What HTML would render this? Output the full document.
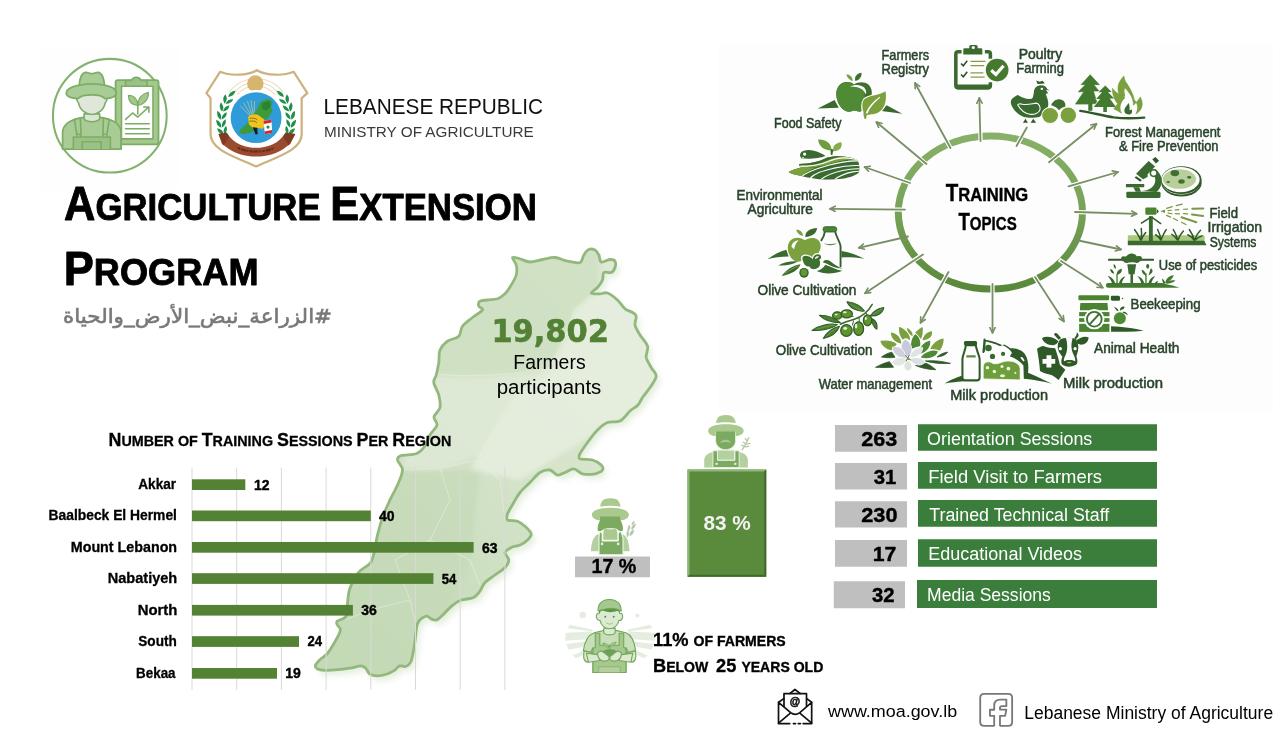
<!DOCTYPE html>
<html lang="en"><head><meta charset="utf-8"><title>Agriculture Extension Program</title>
<style>
html,body{margin:0;padding:0;background:#fff;}
body{width:1288px;height:756px;overflow:hidden;font-family:'Liberation Sans', 'DejaVu Sans', sans-serif;}
svg{display:block}
</style></head><body>
<svg width="1288" height="756" viewBox="0 0 1288 756">
<!-- 05_map -->
<defs>
<linearGradient id="mapg" x1="0.9" y1="0" x2="0.2" y2="1">
<stop offset="0" stop-color="#dfead6"/><stop offset="0.5" stop-color="#d4e3c9"/><stop offset="1" stop-color="#c5d9b7"/>
</linearGradient>
<filter id="mapbl" x="-20%" y="-20%" width="140%" height="140%"><feGaussianBlur stdDeviation="2.5"/></filter>
<filter id="mapsh" x="-10%" y="-10%" width="125%" height="125%"><feGaussianBlur stdDeviation="3"/></filter>
<path id="mapp" d="M512.5 257.5C513.1 256.5 517.1 258.0 520.0 258.8C522.9 259.5 526.2 261.9 530.0 262.0C533.8 262.1 538.3 260.2 542.5 259.5C546.7 258.8 550.8 257.2 555.0 257.5C559.2 257.8 563.3 260.4 567.5 261.2C571.7 262.1 577.3 263.5 580.0 262.5C582.7 261.5 582.3 257.2 583.8 255.0C585.2 252.8 586.9 250.3 588.8 249.5C590.6 248.7 593.3 249.1 595.0 250.0C596.7 250.9 597.7 253.0 598.8 255.0C599.8 257.0 599.4 261.2 601.2 262.0C603.1 262.8 607.7 259.6 610.0 259.5C612.3 259.4 614.2 259.9 615.0 261.2C615.8 262.6 615.6 265.6 615.0 267.5C614.4 269.4 613.1 271.7 611.2 272.5C609.4 273.3 605.2 271.2 603.8 272.5C602.3 273.8 603.5 277.5 602.5 280.0C601.5 282.5 599.4 285.3 597.5 287.5C595.6 289.7 590.8 292.0 591.2 293.0C591.7 294.0 597.3 293.8 600.0 293.8C602.7 293.8 604.6 292.0 607.5 293.0C610.4 294.0 614.6 297.4 617.5 300.0C620.4 302.6 622.5 306.7 625.0 308.8C627.5 310.8 630.6 311.2 632.5 312.5C634.4 313.8 635.8 314.2 636.2 316.2C636.7 318.3 634.4 321.9 635.0 325.0C635.6 328.1 637.9 331.5 640.0 335.0C642.1 338.5 646.5 342.5 647.5 346.2C648.5 350.0 645.6 354.0 646.2 357.5C646.9 361.0 649.6 364.4 651.2 367.5C652.9 370.6 656.5 372.9 656.2 376.2C656.0 379.6 652.3 384.0 650.0 387.5C647.7 391.0 644.5 394.6 642.5 397.5C640.5 400.4 640.1 402.8 638.0 405.0C635.9 407.2 633.0 408.3 630.0 411.0C627.0 413.7 623.8 419.1 620.0 421.0C616.2 422.9 611.2 421.0 607.5 422.5C603.8 424.0 600.8 426.7 597.5 430.0C594.2 433.3 590.4 438.5 587.5 442.5C584.6 446.5 581.2 451.0 580.0 453.8C578.8 456.5 577.9 457.7 580.0 458.8C582.1 459.8 589.0 459.0 592.5 460.0C596.0 461.0 599.6 463.3 601.2 465.0C602.9 466.7 603.5 468.5 602.5 470.0C601.5 471.5 598.3 473.1 595.0 473.8C591.7 474.4 586.0 474.6 582.5 473.8C579.0 472.9 576.7 469.0 573.8 468.8C570.8 468.5 567.7 471.5 565.0 472.5C562.3 473.5 560.0 475.4 557.5 475.0C555.0 474.6 552.9 470.4 550.0 470.0C547.1 469.6 543.3 470.4 540.0 472.5C536.7 474.6 533.3 479.2 530.0 482.5C526.7 485.8 522.7 489.2 520.0 492.5C517.3 495.8 515.8 499.0 513.8 502.5C511.7 506.0 508.5 510.8 507.5 513.8C506.5 516.7 505.8 518.8 507.5 520.0C509.2 521.2 514.6 520.2 517.5 521.2C520.4 522.3 522.7 524.2 525.0 526.2C527.3 528.3 530.8 531.5 531.2 533.8C531.7 536.0 529.4 538.1 527.5 540.0C525.6 541.9 522.7 543.8 520.0 545.0C517.3 546.2 513.8 546.2 511.2 547.5C508.8 548.8 505.4 550.4 505.0 552.5C504.6 554.6 508.8 557.5 508.8 560.0C508.8 562.5 507.3 565.0 505.0 567.5C502.7 570.0 498.3 572.5 495.0 575.0C491.7 577.5 487.6 579.6 485.0 582.5C482.4 585.4 481.2 589.7 479.2 592.2C477.2 594.8 476.1 596.4 473.0 597.8C469.9 599.1 464.1 598.9 460.6 600.3C457.1 601.6 455.0 603.3 451.9 605.9C448.8 608.5 444.4 613.5 441.9 615.8C439.4 618.1 438.5 619.3 436.8 619.9C435.1 620.5 433.5 619.9 431.8 619.3C430.1 618.7 428.6 616.3 426.9 616.2C425.1 616.1 422.9 617.5 421.3 618.7C419.7 619.9 418.3 621.7 417.5 623.6C416.7 625.5 416.7 627.0 416.3 629.9C415.9 632.8 415.5 637.3 415.0 641.0C414.5 644.7 413.9 648.7 413.2 652.2C412.5 655.7 411.9 659.8 410.7 662.2C409.4 664.6 407.6 665.9 405.7 666.5C403.8 667.1 401.4 665.3 399.5 665.9C397.6 666.5 396.6 668.9 394.5 670.3C392.4 671.6 390.0 673.1 387.1 674.0C384.2 674.9 380.0 675.9 377.1 675.9C374.2 675.9 371.6 675.2 369.7 674.0C367.8 672.8 367.4 669.8 365.9 668.4C364.4 667.0 363.6 665.9 360.9 665.9C358.2 665.9 353.7 667.6 349.8 668.2C345.9 668.8 341.5 669.4 337.3 669.7C333.1 670.1 328.2 670.4 324.9 670.3C321.6 670.2 319.0 669.8 317.4 669.0C315.8 668.2 315.1 666.8 315.5 665.3C315.9 663.8 317.9 661.7 319.9 659.7C321.9 657.7 324.7 656.8 327.4 653.5C330.1 650.2 333.9 643.7 336.1 639.8C338.3 635.9 340.2 632.4 340.4 629.9C340.6 627.4 337.8 626.4 337.3 624.9C336.8 623.4 335.9 622.5 337.3 621.1C338.8 619.7 344.3 619.2 346.0 616.2C347.7 613.2 346.9 608.0 347.5 603.4C348.1 598.8 348.0 593.6 349.9 588.4C351.8 583.2 355.3 576.4 358.6 572.3C361.9 568.2 367.3 566.5 369.8 563.6C372.3 560.7 372.2 559.7 373.5 554.9C374.8 550.1 376.0 541.2 377.5 535.0C379.0 528.8 380.6 522.9 382.5 517.5C384.4 512.1 386.2 507.9 388.8 502.5C391.2 497.1 395.2 490.4 397.5 485.0C399.8 479.6 402.5 474.2 402.5 470.0C402.5 465.8 397.7 462.4 397.5 460.0C397.3 457.6 398.1 456.5 401.2 455.5C404.4 454.5 412.5 455.1 416.2 453.8C420.0 452.4 421.5 450.6 423.8 447.5C426.0 444.4 427.8 438.8 430.0 435.0C432.2 431.2 436.3 428.0 437.0 425.0C437.7 422.0 433.5 419.9 434.0 417.0C434.5 414.1 439.2 411.2 440.0 407.5C440.8 403.8 439.8 399.2 438.8 395.0C437.7 390.8 434.2 385.8 433.8 382.5C433.3 379.2 435.4 378.3 436.2 375.0C437.1 371.7 438.1 366.7 438.8 362.5C439.4 358.3 438.5 353.5 440.0 350.0C441.5 346.5 444.4 343.5 447.5 341.2C450.6 339.0 456.2 338.8 458.8 336.2C461.2 333.8 460.2 329.4 462.5 326.2C464.8 323.1 469.2 320.2 472.5 317.5C475.8 314.8 481.5 311.9 482.5 310.0C483.5 308.1 479.2 307.7 478.8 306.2C478.3 304.8 478.5 302.3 480.0 301.2C481.5 300.2 484.6 300.4 487.5 300.0C490.4 299.6 494.6 299.8 497.5 298.8C500.4 297.7 502.7 296.0 505.0 293.8C507.3 291.5 509.4 288.1 511.2 285.0C513.1 281.9 515.4 278.3 516.2 275.0C517.1 271.7 516.9 267.9 516.2 265.0C515.6 262.1 511.9 258.5 512.5 257.5Z"/>
<clipPath id="mapclip"><use href="#mapp"/></clipPath>
</defs>
<g id="map">
<use href="#mapp" transform="translate(4 5)" fill="#cfe0c3" opacity="0.55" filter="url(#mapsh)"/>
<use href="#mapp" fill="url(#mapg)"/>
<g clip-path="url(#mapclip)">
<g filter="url(#mapbl)">
<path d="M598 290 L575 310 L562 345 L548 372 L520 392 L500 420 L470 470 L520 480 L600 430 L660 400 L665 300 Z" fill="#e6efdf" opacity="0.85"/>
<path d="M430 376 C470 380 520 376 548 370 L520 392 L500 420 L480 455 L440 470 L400 470 L420 420 Z" fill="#dfead7" opacity="0.8"/>
<path d="M430 250 L600 250 L598 290 L575 310 L562 345 L548 368 C520 374 470 378 430 374 Z" fill="#cddfc1" opacity="0.8"/>
<path d="M300 700 L330 600 L400 470 L480 470 L470 560 L440 640 L420 700 Z" fill="#c3d8b5" opacity="0.6"/>
</g>
<g fill="none" stroke="#eaf2e4" stroke-width="1.2" opacity="0.45">
<path d="M436 374C470 378 520 374 548 369L562 345L575 310L598 290"/>
<path d="M548 369L520 392L500 420L478 460L440 468L400 470"/>
<path d="M478 460L500 480L505 520M440 468L450 500L430 540L395 560M430 540L470 560L480 585M395 560L410 600L416 625M410 600L370 610L345 620"/>
</g>
</g>
<use href="#mapp" fill="none" stroke="#93b87e" stroke-width="2.8" stroke-linejoin="round"/>
</g>
<!-- 10_base -->
<rect x="718" y="44" width="555" height="368" fill="#fdfdfd"/>
<g id="chart">
<g stroke="#d9d9d9" stroke-width="1">
<path d="M192 467.5V690M236.7 467.5V690M281.4 467.5V690M326.1 467.5V690M370.8 467.5V690M415.5 467.5V690M460.2 467.5V690M504.9 467.5V690" fill="none"/>
</g>
</g>
<!-- 20_ring -->
<defs>
<linearGradient id="ringg" x1="0" y1="0" x2="0" y2="1"><stop offset="0" stop-color="#88b068"/><stop offset="0.5" stop-color="#76a256"/><stop offset="1" stop-color="#5a883b"/></linearGradient>
<marker id="ah" viewBox="0 0 10 10" refX="9" refY="5" markerWidth="7" markerHeight="7" markerUnits="userSpaceOnUse" orient="auto"><path d="M1.5 1.2L9 5L1.5 8.8" fill="none" stroke="#788f66" stroke-width="2.3" stroke-linecap="round" stroke-linejoin="round"/></marker>
</defs>
<g id="ring">
<ellipse cx="990.4" cy="212.5" rx="92.1" ry="76.6" fill="none" stroke="url(#ringg)" stroke-width="7"/>
<g stroke="#fff" stroke-width="4.2" fill="none">
<path d="M980.6 143L980.3 128M951.5 150L944 136M928 165.5L917 156M911.5 183.5L898 178.5M907 209.6L893 209.5M925 253L912 261.5M949.5 270L942 283.5M992.5 282V296M1034 275.5L1041.5 287M1059 259.5L1071 267.5M1073 212L1088 212.3M1066.5 187L1080 183M1047 164L1058.5 154.5M1015.5 148L1021.5 137"/>
</g>
<g stroke="#788f66" stroke-width="1.8" fill="none" stroke-linecap="round">
<path d="M980.5 141L979.3 98" marker-end="url(#ah)"/>
<path d="M950.5 148L915 83" marker-end="url(#ah)"/>
<path d="M926.5 164L876.3 122" marker-end="url(#ah)"/>
<path d="M910 183L864.5 167" marker-end="url(#ah)"/>
<path d="M905 209.6L830 208.8" marker-end="url(#ah)"/>
<path d="M908 236.5L858.8 247.8" marker-end="url(#ah)"/>
<path d="M923 254.5L865 293.3" marker-end="url(#ah)"/>
<path d="M948.5 272L920.5 322.8" marker-end="url(#ah)"/>
<path d="M992.5 284V332.8" marker-end="url(#ah)"/>
<path d="M1035 277L1064 321.5" marker-end="url(#ah)"/>
<path d="M1061 261L1102.8 287.8" marker-end="url(#ah)"/>
<path d="M1076 240L1121 249.5" marker-end="url(#ah)"/>
<path d="M1075 212L1136.8 213.8" marker-end="url(#ah)"/>
<path d="M1068.5 186.3L1118 172" marker-end="url(#ah)"/>
<path d="M1049 162.3L1096.5 123.8" marker-end="url(#ah)"/>
<path d="M1016.5 146L1026.8 127.5"/>
</g>
</g>
<!-- 30_bars -->
<g id="bars" fill="#548235">
<rect x="192" y="479.3" width="53.3" height="10.7"/>
<rect x="192" y="510.5" width="178.8" height="10.7"/>
<rect x="192" y="542" width="281.6" height="10.7"/>
<rect x="192" y="573.2" width="241.4" height="10.7"/>
<rect x="192" y="604.9" width="160.9" height="10.7"/>
<rect x="192" y="636.2" width="107" height="10.7"/>
<rect x="192" y="668" width="85" height="10.7"/>
</g>
<g id="stats">
<g fill="#bfbfbf">
<rect x="835" y="425" width="72" height="26.75"/>
<rect x="835" y="463" width="72" height="26.5"/>
<rect x="835" y="501.25" width="72" height="26.25"/>
<rect x="835" y="540" width="72" height="26.75"/>
<rect x="833.75" y="581.25" width="71.25" height="27"/>
<rect x="575" y="556.5" width="75" height="20.75"/>
</g>
<g fill="#3b7d3b">
<rect x="918" y="424.25" width="239" height="26.5"/>
<rect x="918" y="462" width="239" height="26.75"/>
<rect x="918" y="500" width="239" height="26.75"/>
<rect x="918" y="539.25" width="239" height="27.5"/>
<rect x="917" y="580" width="240" height="28"/>
</g>
<rect x="687.5" y="469.5" width="78.75" height="107.25" fill="#5a8b3c"/>
<path d="M687.5 469.5h78.75l-2 2h-74.75v103.25l-2 2z" fill="#8fb677"/>
<path d="M766.25 469.5v107.25h-78.75l2-2h74.75v-103.25z" fill="#41692b"/>
</g>
<!-- 40_logo_farmer -->
<g id="logo-farmer" transform="translate(40 50) scale(0.18519)" stroke-linejoin="round" stroke-linecap="round">
<rect x="0" y="-20" width="756" height="776" fill="#fefefe" stroke="none"/>
<circle cx="377" cy="355" r="307" fill="#fff" stroke="#82b26b" stroke-width="11"/>
<!-- clipboard -->
<rect x="408" y="163" width="232" height="346" rx="12" fill="#a5c88f" stroke="#7cad64" stroke-width="9.5"/>
<rect x="440" y="196" width="170" height="284" fill="#fff" stroke="#7cad64" stroke-width="8.5"/>
<path d="M462 196V165h32a28 28 0 0 1 52 0h32v31z" fill="#9cc186" stroke="#7cad64" stroke-width="8.5"/>
<path d="M528 300C495 298 478 275 477 245C510 245 528 268 528 300ZM528 300C528 265 548 238 585 228C588 262 568 292 528 300Z" fill="#a5c88f" stroke="#7cad64" stroke-width="6"/>
<path d="M528 300V345" fill="none" stroke="#7cad64" stroke-width="8.5"/>
<path d="M462 375L500 340L528 362L585 310M560 308H588V336" fill="none" stroke="#7cad64" stroke-width="8.5"/>
<path d="M462 398H590M462 425H590M462 452H590" fill="none" stroke="#7cad64" stroke-width="8.5"/>
<!-- farmer body -->
<path d="M122 535V450C122 400 160 375 240 362H320C400 375 438 400 438 450V535Z" fill="#a9cb95" stroke="#7cad64" stroke-width="9.5"/>
<path d="M238 345V372C250 392 310 392 322 372V345Z" fill="#dde6d6" stroke="#7cad64" stroke-width="8.5"/>
<path d="M180 535V470H380V535M228 535V495H330V535" fill="#9cc186" stroke="#7cad64" stroke-width="8.5"/>
<path d="M186 375L200 465M218 372L222 465M342 372L340 465M374 375L360 465" fill="none" stroke="#7cad64" stroke-width="8.5"/>
<circle cx="208" cy="462" r="9" fill="#a9cb95" stroke="#7cad64" stroke-width="6"/>
<circle cx="352" cy="462" r="9" fill="#a9cb95" stroke="#7cad64" stroke-width="6"/>
<!-- face -->
<path d="M205 230C195 250 195 275 208 285C215 325 250 348 280 348C310 348 345 325 352 285C365 275 365 250 355 230Z" fill="#dfe7d9" stroke="#7cad64" stroke-width="8.5"/>
<!-- hat -->
<path d="M142 232C142 210 180 196 212 190C214 160 222 130 240 122C255 116 265 128 280 128C295 128 305 116 320 122C338 130 346 160 348 190C380 196 412 210 412 232C412 262 350 262 350 262C330 235 230 235 205 262C205 262 142 262 142 232Z" fill="#a9cb95" stroke="#7cad64" stroke-width="9.5"/>
<path d="M212 190C250 182 310 182 348 190" fill="none" stroke="#7cad64" stroke-width="8.5"/>
</g>
<!-- 41_logo_moa -->
<g id="logo-moa" transform="translate(195 55) scale(0.15873)" stroke-linejoin="round">
<path d="M390 96C330 132 220 132 158 106L72 240L98 272V500C100 600 250 640 385 702C520 640 670 600 672 500V272L708 240L622 106C560 132 450 132 390 96Z" fill="#ffffff" stroke="#cdb27e" stroke-width="14"/>
<g fill="none" stroke="#ecdcc0" stroke-width="7">
<path d="M215 235C260 175 320 150 385 150C450 150 510 175 555 235"/>
<path d="M240 245C280 195 330 172 385 172C440 172 490 195 530 245"/>
<path d="M265 250C300 212 340 194 385 194C430 194 470 212 505 250"/>
</g>
<circle cx="380" cy="180" r="52" fill="#d8b56e"/>
<circle cx="385" cy="395" r="174" fill="#fff"/>
<circle cx="385" cy="395" r="160" fill="#2f9bd9"/>
<!-- wheat -->
<g stroke="#a9c4a0" stroke-width="6" fill="none" opacity="0.9">
<path d="M345 380L285 320M350 375L305 300M358 372L330 290M366 372L352 285M372 374L375 290"/>
</g>
<!-- map -->
<path d="M410 300L440 282L470 278L490 296L478 325L488 350L470 385L445 410L420 440L390 470L350 490L310 500L275 492L290 465L320 440L345 410L365 375L390 345L400 320Z" fill="#3d9a3a"/>
<path d="M425 300L470 290L478 325L450 350L420 340Z" fill="#2b8431"/>
<!-- hand -->
<path d="M335 390C345 372 380 368 400 380L435 405L450 440L425 465L395 460C370 465 345 450 338 430Z" fill="#f1c320"/>
<path d="M345 400C360 395 380 398 392 408M342 418C358 412 378 416 390 426" stroke="#8a6a10" stroke-width="6" fill="none"/>
<path d="M365 455L380 500L395 500L392 458Z" fill="#1c1c1c"/>
<!-- flag -->
<path d="M432 415L482 408L486 490L440 500Z" fill="#fff"/>
<path d="M432 415L482 408L483 426L433 434Z" fill="#d8242b"/>
<path d="M437 482L485 472L486 490L440 500Z" fill="#d8242b"/>
<circle cx="460" cy="454" r="10" fill="#2b8a3e"/>
<!-- laurels -->
<g fill="#1f8f4c">
<path transform="translate(232 245) rotate(-40)" d="M-30 0Q0 -22 30 0Q0 22 -30 0Z"/>
<path transform="translate(189 277) rotate(-86)" d="M-30 0Q0 -22 30 0Q0 22 -30 0Z"/>
<path transform="translate(217 293) rotate(-30)" d="M-28 0Q0 -20 28 0Q0 20 -28 0Z"/>
<path transform="translate(167 327) rotate(-98)" d="M-30 0Q0 -22 30 0Q0 22 -30 0Z"/>
<path transform="translate(197 337) rotate(-42)" d="M-28 0Q0 -20 28 0Q0 20 -28 0Z"/>
<path transform="translate(152 380) rotate(-110)" d="M-30 0Q0 -22 30 0Q0 22 -30 0Z"/>
<path transform="translate(184 384) rotate(-54)" d="M-28 0Q0 -20 28 0Q0 20 -28 0Z"/>
<path transform="translate(150 433) rotate(-123)" d="M-30 0Q0 -22 30 0Q0 22 -30 0Z"/>
<path transform="translate(182 431) rotate(-67)" d="M-28 0Q0 -20 28 0Q0 20 -28 0Z"/>
<path transform="translate(161 483) rotate(-136)" d="M-30 0Q0 -22 30 0Q0 22 -30 0Z"/>
<path transform="translate(191 473) rotate(-80)" d="M-28 0Q0 -20 28 0Q0 20 -28 0Z"/>
<path transform="translate(538 245) rotate(220)" d="M-30 0Q0 -22 30 0Q0 22 -30 0Z"/>
<path transform="translate(553 293) rotate(210)" d="M-28 0Q0 -20 28 0Q0 20 -28 0Z"/>
<path transform="translate(581 277) rotate(266)" d="M-30 0Q0 -22 30 0Q0 22 -30 0Z"/>
<path transform="translate(573 337) rotate(222)" d="M-28 0Q0 -20 28 0Q0 20 -28 0Z"/>
<path transform="translate(603 327) rotate(278)" d="M-30 0Q0 -22 30 0Q0 22 -30 0Z"/>
<path transform="translate(586 384) rotate(234)" d="M-28 0Q0 -20 28 0Q0 20 -28 0Z"/>
<path transform="translate(618 380) rotate(290)" d="M-30 0Q0 -22 30 0Q0 22 -30 0Z"/>
<path transform="translate(588 431) rotate(247)" d="M-28 0Q0 -20 28 0Q0 20 -28 0Z"/>
<path transform="translate(620 433) rotate(303)" d="M-30 0Q0 -22 30 0Q0 22 -30 0Z"/>
<path transform="translate(579 473) rotate(260)" d="M-28 0Q0 -20 28 0Q0 20 -28 0Z"/>
<path transform="translate(609 483) rotate(316)" d="M-30 0Q0 -22 30 0Q0 22 -30 0Z"/>
</g>
<!-- ribbon -->
<path d="M148 498L200 490C240 560 320 585 385 585C450 585 530 560 570 490L632 498L600 560L575 578C530 620 450 640 385 640C320 640 240 620 195 578L170 560Z" fill="#9a4b2f"/>
<path d="M148 498L200 490L215 515L180 570Z" fill="#7f3a22"/><path d="M632 498L570 490L555 515L590 570Z" fill="#7f3a22"/>
<path d="M270 585C300 600 340 608 385 608C430 608 470 600 500 585" stroke="#6e2c18" stroke-width="14" fill="none" stroke-dasharray="18 6 30 5 12 7"/>
</g>
<!-- 50_icons_a -->
<g id="ic-clipboard" transform="translate(940 36) scale(0.08467)">
<path d="M255 185H215Q187 185 187 213V585Q187 612 215 612H568Q595 612 595 585V545M530 185H568Q595 185 595 213V270" fill="none" stroke="#3c6a2e" stroke-width="42" stroke-linecap="butt"/>
<path d="M187 572H595V595Q595 632 560 632H222Q187 632 187 595Z" fill="#3c6a2e"/>
<path d="M275 160Q275 145 290 145H345V125Q345 105 365 105H425Q445 105 445 125V145H485Q500 145 500 160V218H275Z" fill="#3c6a2e"/>
<circle cx="393" cy="136" r="19" fill="#fdfdfd"/>
<path d="M248 325L275 352L322 292M248 455L275 482L322 422" fill="none" stroke="#2c4a25" stroke-width="17"/>
<path d="M360 300H537M360 351H522M360 436H512M360 486H527" stroke="#8c9a45" stroke-width="15" fill="none"/>
<circle cx="675" cy="402" r="146" fill="#fdfdfd"/>
<circle cx="675" cy="402" r="134" fill="#457a2e"/>
<path d="M605 405L660 455L750 352" fill="none" stroke="#fdfdfd" stroke-width="38"/>
</g>
<g id="ic-apple" transform="translate(810 62) scale(0.08467)">
<path d="M90 550L290 450L340 540Z" fill="#3a6a2f"/>
<path d="M845 580L905 510L1090 612Z" fill="#3a6a2f"/>
<path d="M520 265C470 225 380 225 335 290C290 355 310 470 370 540C410 585 460 600 500 580C520 570 540 572 560 582C600 600 640 570 680 510C740 420 750 320 690 265C640 225 560 235 520 265Z" fill="#3f7030"/>
<path d="M520 265C470 225 380 225 335 290C290 355 310 470 370 540C410 585 460 600 500 580C520 570 540 572 560 582C580 590 600 585 620 570C650 480 660 380 620 300C590 280 560 270 520 265Z" fill="#4f8a34"/>
<path d="M470 290C530 260 600 265 640 300C665 330 672 360 655 380C640 330 590 290 470 290Z" fill="#fdfdfd"/>
<path d="M505 225C470 215 435 185 430 145C470 145 505 180 505 225Z" fill="#7a9e4a"/>
<path d="M535 225C520 180 550 135 608 128C615 175 585 215 535 225Z" fill="#3f7030"/>
<path d="M640 680C620 560 600 500 640 440C700 390 800 400 892 345C910 460 880 560 800 600C750 625 700 615 672 630L665 675Z" fill="#fdfdfd" stroke="#fdfdfd" stroke-width="26" stroke-linejoin="round"/>
<path d="M645 670C650 610 680 540 740 480C780 440 810 425 820 420C760 470 700 540 672 630C700 615 750 625 800 600C880 560 910 460 892 345C800 400 700 390 640 440C610 480 615 540 632 590C630 620 635 650 645 670Z" fill="#7ba03e"/>
<path d="M655 668C655 600 700 520 822 418" fill="none" stroke="#fdfdfd" stroke-width="12" stroke-linecap="round"/>
<path d="M640 668C645 640 650 620 660 600L680 610C668 630 664 650 665 672Z" fill="#7ba03e"/>
</g>
<g id="ic-field" transform="translate(780 130) scale(0.08467)">
<clipPath id="fieldclip"><path d="M100 495C150 470 200 455 260 440C230 435 222 420 225 402C350 395 450 380 560 325C680 295 800 310 895 345C920 360 930 380 935 410C945 450 940 480 930 505C880 545 800 570 700 580C600 590 500 590 420 575C350 565 300 555 240 540C180 530 130 515 100 495Z"/></clipPath>
<g clip-path="url(#fieldclip)">
<rect x="90" y="290" width="860" height="310" fill="#3a6a2f"/>
<path d="M90 500C200 440 400 450 520 420C640 380 780 340 900 345L900 300H90Z" fill="#7ba03e"/>
<path d="M90 520L250 545C300 500 360 460 440 445L200 440L90 480Z" fill="#7ba03e"/>
<path d="M225 402C350 395 450 380 560 325C620 305 700 300 780 310C680 315 600 340 520 375C440 410 330 420 228 420Z" fill="#3a6a2f"/>
<g fill="none" stroke="#fdfdfd" stroke-width="13">
<path d="M215 430C350 430 460 420 560 375C680 320 800 320 910 350"/>
<path d="M250 555C330 480 450 450 560 420C680 385 800 360 940 365"/>
<path d="M350 575C420 500 520 480 640 450C760 420 850 415 945 420"/>
<path d="M470 595C540 530 640 500 740 478C820 460 880 455 945 458"/>
<path d="M640 590C700 540 780 510 860 495C900 488 930 486 950 488"/>
</g>
</g>
<path d="M258 338C235 320 230 290 245 268C270 235 340 230 400 245C460 260 510 285 537 307C480 330 380 342 290 338Z" fill="#3a6a2f"/>
<circle cx="291" cy="284" r="19" fill="#fdfdfd"/>
<path d="M262 318L285 318L270 340Z" fill="#fdfdfd"/>
<path d="M590 215C600 245 598 270 600 295L622 292C620 270 625 250 640 235Z" fill="#3a6a2f"/>
<path d="M598 240C520 240 455 190 450 112C530 105 600 150 605 215Z" fill="#6f9e3c"/>
<path d="M630 250C615 200 650 150 725 145C740 200 710 250 630 250Z" fill="#85ad4a"/>
</g>
<g id="ic-olive1" transform="translate(762 222) scale(0.0854)">
<path d="M65 435C140 380 210 345 285 325L312 405C220 405 140 415 65 435Z" fill="#3a6a2f"/>
<path d="M930 340C1030 355 1120 390 1195 430C1100 415 1010 412 930 415Z" fill="#3a6a2f"/>
<!-- bottle -->
<path d="M735 115C730 160 715 190 695 215V520H920V290C920 240 870 180 858 115Z" fill="#fdfdfd"/>
<path d="M735 115C730 160 712 190 695 215M858 115C870 180 920 240 920 290V520" fill="none" stroke="#335f2b" stroke-width="22" stroke-linecap="round"/>
<rect x="715" y="55" width="160" height="62" rx="28" fill="#4a8436" stroke="#335f2b" stroke-width="10"/>
<path d="M725 248C770 262 830 262 878 250C840 280 770 282 725 248Z" fill="#5c8a45"/>
<!-- apple -->
<path d="M500 215C455 175 370 170 325 225C285 280 300 370 350 430C390 470 430 470 470 455C520 440 600 430 650 380C700 320 700 240 650 205C600 175 540 185 500 215Z" fill="#7ba03e"/>
<path d="M345 290C350 250 380 220 430 215C395 245 385 285 375 320Z" fill="#fdfdfd"/>
<path d="M480 165C440 160 410 130 400 92C445 90 480 120 480 165Z" fill="#7a9e4a"/>
<path d="M508 175C500 120 550 75 645 70C640 130 590 170 508 175Z" fill="#3a6a2f"/>
<!-- olive cluster -->
<path d="M470 450C450 410 480 380 530 390C560 395 580 410 590 420C600 380 640 360 680 375C710 390 705 430 680 445C700 480 690 530 650 550C610 570 570 560 550 530C510 530 480 500 470 450Z" fill="#3f7030" stroke="#fdfdfd" stroke-width="16"/>
<path d="M620 420C630 400 655 395 668 405C655 420 640 428 625 432Z" fill="#fdfdfd"/>
<!-- lower leaves -->
<path d="M190 508C260 470 340 455 420 462C360 500 270 515 190 508Z" fill="#3a6a2f"/>
<path d="M230 632C280 560 370 505 452 495C430 560 340 615 230 632Z" fill="#3a6a2f"/>
<path d="M265 608C320 565 380 530 430 512" stroke="#8ab04d" stroke-width="9" fill="none"/>
<ellipse cx="492" cy="595" rx="55" ry="57" fill="#335f2b"/>
<ellipse cx="492" cy="592" rx="40" ry="42" fill="#5f9a2e"/>
<path d="M640 575C700 560 730 520 740 500C800 520 870 560 940 572C850 610 720 615 640 575Z" fill="#3a6a2f"/>
<path d="M712 470C730 440 770 440 800 460C850 500 900 535 945 545C880 550 810 520 760 490C740 478 725 475 712 470Z" fill="#3a6a2f"/>
</g>
<g id="ic-olive2" transform="translate(800 292) scale(0.07764)">
<path d="M930 160C880 250 800 320 700 350C640 370 570 385 520 415" fill="none" stroke="#3a6a2f" stroke-width="20" stroke-linecap="round"/>
<path d="M690 315L600 305M690 370L675 430M760 330L765 390M850 270L860 300" fill="none" stroke="#3a6a2f" stroke-width="13"/>
<g fill="#4b7f33" stroke="#2f5a28" stroke-width="13" stroke-linejoin="round">
<path d="M605 125C700 130 790 180 830 245C740 255 640 210 605 125Z"/>
<path d="M1080 200C1070 270 1000 315 905 310C940 250 1010 210 1080 200Z"/>
<path d="M250 300C350 300 460 340 520 395C420 395 310 360 250 300Z"/>
<path d="M155 495C240 430 380 400 480 420C400 480 260 505 155 495Z"/>
<path d="M300 598C340 520 430 455 510 440C480 520 400 580 300 598Z"/>
<path d="M930 345C980 370 1000 420 990 480C950 455 925 400 930 345Z"/>
</g>
<g fill="none" stroke="#8ab04d" stroke-width="7">
<path d="M650 160C700 190 760 220 800 238M940 295C980 265 1030 235 1060 218M210 482C290 455 380 435 450 428M335 575C380 525 440 480 490 455"/>
</g>
<g fill="#5f962c" stroke="#2f5a28" stroke-width="16">
<ellipse cx="480" cy="302" rx="60" ry="47"/>
<ellipse cx="602" cy="282" rx="73" ry="52"/>
<ellipse cx="598" cy="495" rx="74" ry="75"/>
<ellipse cx="755" cy="472" rx="64" ry="88"/>
<ellipse cx="870" cy="365" rx="54" ry="70"/>
</g>
<g fill="#e4efd0">
<ellipse cx="466" cy="290" rx="20" ry="11"/><ellipse cx="578" cy="262" rx="24" ry="13"/><ellipse cx="582" cy="468" rx="24" ry="20"/><ellipse cx="722" cy="440" rx="16" ry="30"/><ellipse cx="848" cy="342" rx="13" ry="22"/>
</g>
</g>
<g id="ic-lily" transform="translate(868 318) scale(0.07937)">
<g fill="#7ba03e" stroke="#7ba03e" stroke-width="16" stroke-linejoin="round">
<path d="M165 295C240 285 310 300 352 330C330 350 310 375 290 398C230 380 185 345 165 295Z"/>
<path d="M295 190C360 200 405 250 412 312C350 300 305 255 295 190Z"/>
<path d="M400 120C470 150 520 210 522 268C490 240 460 245 440 262C405 220 395 170 400 120Z"/>
<path d="M500 135C535 160 555 190 555 218C525 200 505 170 500 135Z"/>
<path d="M605 182C630 160 655 140 682 125C685 170 680 215 665 252C650 225 630 200 605 182Z"/>
<path d="M695 272C710 220 750 185 800 175C805 225 770 265 695 272Z"/>
<path d="M795 382C830 320 880 280 945 265C945 320 925 370 900 402C880 390 860 380 795 382Z"/>
</g>
<g fill="#4f8a34" stroke="#4f8a34" stroke-width="20" stroke-linejoin="round">
<path d="M555 375C545 310 565 250 598 215C640 250 655 300 648 345C620 350 585 360 555 375Z"/>
<path d="M650 445C660 370 710 310 775 298C780 360 740 420 650 445Z"/>
<path d="M680 492C720 440 800 410 868 425C850 480 770 510 680 492Z"/>
</g>
<g fill="#2f5a28" stroke="#2f5a28" stroke-width="10" stroke-linejoin="round">
<path d="M170 492C210 460 255 440 300 430L340 495C280 505 220 500 170 492Z"/>
<path d="M95 622C150 590 210 565 270 550L322 620C240 625 160 625 95 622Z"/>
<path d="M720 542C830 530 940 545 1040 572C930 580 820 570 720 542Z"/>
<path d="M600 598C650 590 700 580 730 570C780 590 820 620 855 652C760 650 670 630 600 598Z"/>
<path d="M870 492C900 460 950 435 1005 430C980 465 930 485 870 492Z"/>
</g>
<g stroke="#fdfdfd" stroke-width="14" stroke-linejoin="round" paint-order="stroke">
<path d="M485 480C415 420 400 330 470 268C555 320 570 400 520 482Z" fill="#c9cad9"/>
<path d="M478 510C395 510 315 450 308 370C400 345 470 410 478 510Z" fill="#cfd1de"/>
<path d="M535 492C540 425 600 375 688 375C680 450 620 495 535 492Z" fill="#dfe3e2"/>
<path d="M490 525C450 610 360 625 300 560C340 490 430 485 490 525Z" fill="#e3e7e3"/>
<path d="M505 540C560 580 570 635 505 665C440 640 445 580 505 540Z" fill="#dfe3df"/>
<path d="M530 522C590 485 680 505 718 550C675 610 585 605 530 522Z" fill="#dcdfe3"/>
</g>
<path d="M470 470L500 505L520 470M500 505L480 545M500 505L540 530" stroke="#2f4a2a" stroke-width="10" fill="none"/><circle cx="505" cy="512" r="16" fill="#6f9e3c"/>
</g>
<!-- 51_icons_b -->
<g id="ic-milk" transform="translate(940 330) scale(0.08467)">
<path d="M55 632C120 590 190 560 255 540L285 605C200 612 120 622 55 632Z" fill="#2f5a28"/>
<path d="M305 180C300 240 270 290 265 340V560Q265 595 300 595H435Q468 595 468 560V340C462 290 430 240 422 180Z" fill="#fdfdfd" stroke="#2f5a28" stroke-width="24" stroke-linejoin="round"/>
<rect x="283" y="130" width="155" height="52" rx="18" fill="#2f5a28"/>
<rect x="310" y="298" width="112" height="28" rx="10" fill="#5c8a45"/>
<path d="M512 262L525 112C620 125 700 160 760 190C800 210 830 240 850 268L825 312C880 330 940 360 985 420L990 575C1100 585 1220 605 1323 635C1230 590 1130 545 1040 505C1050 420 1040 340 1000 280C960 230 900 215 830 215C810 200 785 185 760 172Z" fill="#2f5a28"/>
<path d="M540 135C620 150 700 180 760 215C790 232 815 250 835 270L810 320C760 340 700 370 650 380C600 385 560 360 530 365L528 270Z" fill="#fdfdfd"/>
<path d="M512 262L525 112" stroke="#2f5a28" stroke-width="22" fill="none" stroke-linecap="round"/>
<circle cx="572" cy="212" r="39" fill="#3a6a2f"/><circle cx="620" cy="312" r="31" fill="#3a6a2f"/><circle cx="745" cy="282" r="25" fill="#3a6a2f"/>
<path d="M950 318L975 322L1000 360L985 372L958 340Z" fill="#fdfdfd"/>
<path d="M510 578V425C520 372 580 362 620 392C680 415 720 372 790 366C880 360 940 400 947 452V590Z" fill="#6f9e3c" stroke="#fdfdfd" stroke-width="10"/>
<g fill="#eef5e0"><circle cx="560" cy="445" r="20"/><circle cx="642" cy="490" r="20"/><circle cx="732" cy="432" r="18"/><circle cx="808" cy="455" r="22"/><ellipse cx="738" cy="540" rx="30" ry="18"/><circle cx="890" cy="508" r="12"/></g>
</g>
<g id="ic-cow" transform="translate(1026 324) scale(0.08467)">
<path d="M130 292C155 275 180 262 205 260C250 280 300 285 345 285L380 400L400 480L465 540L385 662C350 630 320 610 290 600C240 590 200 575 165 555C160 470 145 380 130 292Z" fill="#2f5a28"/>
<path d="M242 368H300V412H345V468H300V515H242V468H195V412H242Z" fill="#fdfdfd"/>
<!-- head -->
<path d="M395 175C440 150 560 145 600 175C645 250 625 330 605 380C620 430 625 470 595 490C540 518 470 518 425 490C400 470 405 420 420 390C365 330 345 250 395 175Z" fill="#2f5a28" stroke="#fdfdfd" stroke-width="18"/>
<path d="M470 165C500 158 530 160 550 170C530 230 530 300 560 360C580 400 585 420 580 440C540 420 490 420 450 440C440 420 455 390 470 360C495 300 490 220 470 165Z" fill="#fdfdfd"/>
<path d="M465 440C480 420 545 420 560 440C570 470 540 488 512 488C485 488 455 470 465 440Z" fill="#2f5a28"/>
<ellipse cx="510" cy="455" rx="28" ry="9" fill="#8fb56f"/>
<circle cx="406" cy="292" r="19" fill="#fdfdfd"/><circle cx="580" cy="292" r="19" fill="#fdfdfd"/>
<path d="M190 165C240 140 320 150 385 205C370 235 350 245 320 250C260 250 200 220 190 165Z" fill="#2f5a28"/>
<path d="M740 158C690 140 630 160 590 205C600 230 620 242 650 245C700 240 735 210 740 158Z" fill="#2f5a28"/>
<path d="M330 125C335 105 355 100 368 112L415 165L385 185Z" fill="#2f5a28"/>
<path d="M600 100C620 110 628 135 615 150L590 180L570 165C590 145 600 125 600 100Z" fill="#2f5a28"/>
</g>
<g id="ic-bee" transform="translate(1070 286) scale(0.07143)">
<rect x="118" y="128" width="430" height="70" rx="14" fill="#4a8431"/>
<path d="M572 150Q572 138 590 138H680Q700 138 700 160V190Q700 208 680 208H600Q572 208 572 190Z" fill="#2f5a28"/>
<circle cx="735" cy="176" r="10" fill="#2f5a28"/>
<path d="M145 238H525L532 338H138Z" fill="#4a8431"/>
<rect x="128" y="365" width="424" height="58" fill="#4a8431"/>
<rect x="128" y="450" width="424" height="52" fill="#4a8431"/>
<rect x="128" y="530" width="424" height="112" fill="#4a8431"/>
<circle cx="340" cy="465" r="142" fill="#fdfdfd"/>
<circle cx="340" cy="465" r="103" fill="none" stroke="#3f7030" stroke-width="26"/>
<path d="M272 540L408 392" stroke="#3f7030" stroke-width="26" fill="none"/>
<circle cx="698" cy="452" r="84" fill="#4f8a34"/>
<path d="M660 350C640 330 625 310 618 292C645 300 670 325 680 350Z" fill="#2f5a28"/>
<path d="M700 345C695 310 720 285 760 288C770 315 740 330 715 335Z" fill="#2f5a28"/>
<path d="M740 360C775 355 805 380 812 412C790 395 765 380 740 375Z" fill="#2f5a28"/>
<path d="M575 565C730 570 900 595 1030 625C880 640 720 642 575 642Z" fill="#2f5a28"/>
</g>
<g id="ic-pest" transform="translate(1100 248) scale(0.06211)" fill="#3a6a2f">
<rect x="130" y="175" width="740" height="32" rx="10" fill="#2f5a28"/>
<path d="M345 190C330 160 350 130 385 135C410 135 420 140 430 130C450 95 490 82 520 88C560 92 580 115 595 135C620 125 660 130 675 155C690 180 670 210 640 215C630 240 590 250 560 235C530 225 480 225 450 238C420 250 385 235 380 215C360 215 350 205 345 190Z"/>
<path d="M440 262H582L556 422H462Z"/>
<rect x="490" y="415" width="42" height="160"/>
<path d="M95 600Q95 565 130 565H1000C1100 590 1200 615 1280 637C1200 642 1100 642 1000 642H130Q95 642 95 600Z" fill="#427a30"/>
<path d="M120 452C180 460 230 510 245 570H195C180 525 155 485 120 452Z"/>
<path d="M410 455C350 470 315 520 305 570H350C360 525 380 490 410 455Z"/>
<rect x="262" y="415" width="24" height="160" fill="#4f8a34"/>
<path d="M272 430C265 385 300 340 350 335C360 385 325 425 272 430Z"/>
<path d="M165 338C200 345 225 380 225 415C190 410 165 380 165 338Z" fill="#2f5a28"/>
<path d="M222 258C250 275 260 310 252 338C225 320 212 290 222 258Z" fill="#2f5a28"/>
<path d="M600 450C660 462 700 510 712 570H665C655 525 635 485 600 450Z"/>
<path d="M890 450C830 465 790 515 780 570H825C835 525 860 485 890 450Z"/>
<rect x="728" y="410" width="24" height="165" fill="#4f8a34"/>
<path d="M670 350C715 360 745 400 742 445C700 432 672 395 670 350Z"/>
<ellipse cx="768" cy="295" rx="24" ry="38"/>
<path d="M820 325C860 350 860 400 780 440C800 400 800 360 820 325Z"/>
<path d="M1000 490C1030 510 1050 540 1050 575H1020C1010 545 1000 520 1000 490Z"/>
<path d="M1050 560C1070 480 1120 440 1190 438C1170 490 1130 520 1070 570Z" fill="#427a30"/>
<path d="M1070 560C1100 520 1160 510 1215 525C1180 560 1130 575 1070 575Z" fill="#427a30"/>
<path d="M880 570C890 550 910 535 935 532C930 555 915 568 900 575Z"/>
</g>
<g id="ic-irrig" transform="translate(1120 196) scale(0.07453)">
<rect x="105" y="525" width="1030" height="90" rx="20" fill="#a8c87e"/>
<path d="M105 600H1130L1162 662H105Z" fill="#3a6a2f"/>
<rect x="388" y="270" width="52" height="345" fill="#3a6a2f"/>
<path d="M288 365L405 290M435 290L546 370" stroke="#2f5a28" stroke-width="20" stroke-linecap="round" fill="none"/>
<rect x="340" y="155" width="150" height="96" rx="16" fill="#4a8431"/>
<path d="M495 180C525 185 525 225 495 232Z" fill="#2f5a28"/>
<g fill="none" stroke="#2f5a28" stroke-width="20" stroke-linecap="round">
<path d="M195 450C230 500 260 540 275 590M285 435C295 490 290 540 280 590M345 490C320 520 300 550 285 590"/>
<path d="M478 520C510 540 530 560 545 590M505 450C530 500 545 540 548 590M620 450C590 500 565 540 552 590"/>
<path d="M695 515C730 535 755 560 770 590M715 450C745 500 765 540 772 590M850 470C815 510 790 550 778 590"/>
<path d="M910 520C950 540 975 560 990 590M930 450C965 500 985 540 995 590M1080 460C1040 500 1015 545 1000 590M1100 535C1060 550 1030 570 1005 592"/>
</g>
<g fill="#7d9646">
<path d="M540 205L605 182V228Z"/>
</g>
<g fill="none" stroke="#7d9646" stroke-linecap="round">
<path d="M625 165L700 142M755 130L835 108" stroke-width="17"/>
<path d="M645 195L690 191M742 186L790 183M852 178L908 176" stroke-width="16"/>
<path d="M645 230L698 238M742 236L798 241M852 236L908 241" stroke-width="16"/>
<path d="M625 260L678 284M718 302L772 328M825 352L885 382" stroke-width="17"/>
<path d="M970 170L1118 168" stroke-width="26"/>
<path d="M965 248L1115 268" stroke-width="26"/>
<path d="M825 285L1025 352" stroke-width="26"/>
</g>
</g>
<g id="ic-micro" transform="translate(1120 156) scale(0.06988)">
<ellipse cx="880" cy="385" rx="288" ry="195" fill="#2f5a28"/>
<ellipse cx="875" cy="368" rx="275" ry="183" fill="#fdfdfd"/>
<ellipse cx="878" cy="345" rx="290" ry="200" fill="#2f5a28"/>
<ellipse cx="868" cy="338" rx="272" ry="180" fill="#fdfdfd"/>
<ellipse cx="850" cy="330" rx="238" ry="140" fill="#b9cf9b"/>
<ellipse cx="785" cy="245" rx="62" ry="45" fill="#3f7030"/><ellipse cx="880" cy="365" rx="46" ry="32" fill="#3f7030"/><ellipse cx="990" cy="305" rx="32" ry="20" fill="#3f7030"/><ellipse cx="690" cy="372" rx="26" ry="15" fill="#3f7030"/>
<path d="M90 530Q90 510 110 510H560Q580 510 580 530V580Q580 600 560 600H110Q90 600 90 580Z" fill="#3a6a2f"/>
<rect x="85" y="400" width="262" height="46" rx="8" fill="#3a6a2f"/>
<path d="M190 446H275L300 510H225Z" fill="#3a6a2f"/>
<path d="M300 500C420 500 500 440 505 350C508 300 480 260 450 245C440 210 470 185 510 195C570 230 600 300 595 370C590 440 560 490 520 515Z" fill="#3a6a2f"/>
<circle cx="482" cy="245" r="58" fill="#3a6a2f"/>
<circle cx="482" cy="245" r="36" fill="#fdfdfd"/>
<path d="M230 255L410 70L502 150L395 262V300L330 332Z" fill="#3a6a2f"/>
<path d="M462 48L508 14L560 68L514 106Z" fill="#2f5a28"/>
<path d="M208 308L232 288L312 345L290 368Z" fill="#2f5a28"/>
</g>
<!-- 52_icons_c -->
<g id="ic-forest" transform="translate(1066 68) scale(0.07937)">
<path d="M180 540C320 560 460 600 600 622C740 640 870 635 985 625" fill="none" stroke="#2f5a28" stroke-width="30" stroke-linecap="round"/>
<path d="M305 85L420 210H350L415 290H345L395 450H328V535H285V455H120L225 300H155L245 210H190Z" fill="#427a30" stroke="#427a30" stroke-width="8" stroke-linejoin="round"/>
<path d="M495 220L575 302H530L605 385H550L630 490H515V555H470V490H350L430 390H380L455 305H410Z" fill="#427a30" stroke="#fdfdfd" stroke-width="14" stroke-linejoin="round"/>
<path d="M495 220L575 302H530L605 385H550L630 490H515V555H470V490H350L430 390H380L455 305H410Z" fill="#427a30"/>
<!-- flame -->
<path d="M730 100C650 180 640 260 670 330C640 310 610 290 585 255C580 330 610 400 650 450C630 470 620 500 600 515C640 530 670 550 700 570C660 500 690 420 740 380C720 330 720 290 740 250C790 300 850 370 850 470C880 440 910 410 935 365C980 440 970 530 880 580C920 500 900 440 860 400C850 330 800 250 770 200C740 160 735 130 730 100Z" fill="#7ba03e" stroke="#6a9436" stroke-width="6"/>
<path d="M735 250C700 300 690 360 710 410C720 380 730 360 745 345C735 310 732 280 735 250Z" fill="#7ba03e"/>
<path d="M790 440C760 480 730 510 735 545C740 580 780 590 805 585C835 578 840 545 825 520C815 530 805 535 800 530C805 500 800 470 790 440Z" fill="#3a6a2f"/>
</g>
<g id="ic-chicken" transform="translate(1004 76) scale(0.07143)">
<path d="M450 62L500 80L540 65L572 105L470 112Z" fill="#2f5a28"/>
<path d="M520 130C570 130 600 160 610 190L635 195L605 215L615 245L585 250C600 300 625 350 620 410C610 470 560 520 500 570C440 590 340 590 280 575C200 545 130 480 100 400C90 360 95 330 120 310C150 290 170 270 195 265C240 300 320 330 390 320C410 300 415 250 420 210C430 160 470 130 520 130Z" fill="#3a6a2f"/>
<path d="M195 410C190 390 220 385 260 395C330 410 400 385 450 380C490 385 510 430 505 470C490 520 420 545 360 535C290 525 230 470 195 410Z" fill="#3a6a2f" stroke="#fdfdfd" stroke-width="16"/>
<circle cx="530" cy="180" r="17" fill="#fdfdfd"/>
<path d="M588 195L625 200L605 222Z" fill="#fdfdfd"/>
<path d="M300 600L265 655H335ZM410 600L372 655H450Z" fill="#2f5a28"/>
<path d="M660 410C680 350 740 320 790 328C850 340 870 390 855 430C820 440 790 455 770 478C740 440 700 420 660 410Z" fill="#3f7030"/>
<ellipse cx="645" cy="553" rx="118" ry="112" fill="#7ba03e" stroke="#fdfdfd" stroke-width="14"/>
<ellipse cx="900" cy="550" rx="116" ry="115" fill="#7ba03e" stroke="#fdfdfd" stroke-width="14"/>
</g>
<!-- 53_farmers -->
<g id="ic-male" transform="translate(692 408) scale(0.08728)">
<path d="M140 682V600C140 545 180 515 250 500H530C600 515 640 545 640 600V682Z" fill="#b3d09e"/>
<path d="M290 480H490V600H290Z" fill="#b3d09e" stroke="#f4faef" stroke-width="12"/>
<path d="M240 490H292V600H492V490H540V682H240Z" fill="#7daa61" stroke="#eef6e8" stroke-width="10"/>
<circle cx="282" cy="640" r="14" fill="#e4f0da"/><circle cx="496" cy="640" r="14" fill="#e4f0da"/>
<path d="M270 240H500V380C495 440 440 478 385 478C330 478 275 440 270 380Z" fill="#7daa61" stroke="#eef6e8" stroke-width="10"/>
<path d="M330 395C350 360 420 360 440 395C420 380 350 380 330 395Z" fill="#b3d09e" stroke="#b3d09e" stroke-width="8"/>
<path d="M185 260C185 215 260 185 388 185C516 185 592 215 592 260C592 300 540 322 500 322V270H270V322C230 322 185 300 185 260Z" fill="#a9c98f"/>
<path d="M275 172C280 130 300 95 330 88C370 78 410 78 445 88C475 95 495 130 502 172C430 160 340 160 275 172Z" fill="#a9c98f"/>
<g stroke="#b4c4a4" stroke-width="14" stroke-linecap="round" fill="none">
<path d="M575 480C600 440 630 390 650 340"/>
<path d="M600 440L570 425M615 410L585 390M632 375L610 350M612 445L650 440M628 415L665 405"/>
</g>
</g>
<g id="ic-female" transform="translate(580 490) scale(0.09259)">
<path d="M118 662C120 580 140 510 185 480H470C515 510 530 580 535 662Z" fill="#b3d09e"/>
<path d="M210 440L240 470V550H410V470L440 440L465 520V700H205V520Z" fill="#7daa61" stroke="#eef6e8" stroke-width="12"/>
<path d="M262 400C290 425 370 425 392 400L410 460V545H245V460Z" fill="#a9c98f" stroke="#f4faef" stroke-width="14"/>
<circle cx="238" cy="582" r="14" fill="#e4f0da"/><circle cx="412" cy="582" r="14" fill="#e4f0da"/>
<path d="M215 262H440V330C455 360 470 400 462 440C440 450 415 440 400 420C380 410 350 412 328 412C305 412 275 410 258 420C240 440 215 450 192 440C185 400 200 360 215 330Z" fill="#7daa61"/>
<path d="M128 268C128 225 200 192 328 192C456 192 528 225 528 268C528 305 480 328 440 330V285H215V330C175 328 128 305 128 268Z" fill="#a9c98f"/>
<path d="M218 180C222 135 240 105 270 96C310 86 350 86 388 96C415 105 432 135 438 180C370 168 285 168 218 180Z" fill="#a9c98f"/>
<g fill="#b4c4a4" stroke="#b4c4a4" stroke-width="6" stroke-linejoin="round">
<path d="M512 510C500 480 505 450 520 432C530 460 528 485 512 510Z"/><path d="M540 495C535 465 550 440 578 428C582 460 565 482 540 495Z"/>
<path d="M520 440C512 412 520 392 535 378C545 405 540 425 520 440Z"/><path d="M558 425C556 398 572 375 598 365C598 398 584 415 558 425Z"/>
<path d="M560 375C560 355 570 342 585 338C588 358 578 370 560 375Z"/>
</g>
</g>
<g id="ic-young" transform="translate(560 594) scale(0.11377)" stroke-linejoin="round">
<g fill="#e3ebdd" opacity="0.9">
<path d="M50 340L280 330L285 395L45 410Z"/><path d="M85 270L290 315L280 330L70 300Z"/><path d="M55 440L280 410L280 450L75 490Z"/><path d="M110 540L270 470L280 500L140 565Z"/>
<path d="M830 340L600 330L595 395L835 410Z"/><path d="M795 270L590 315L600 330L810 300Z"/><path d="M825 440L600 410L600 450L805 490Z"/><path d="M770 540L610 470L600 500L740 565Z"/>
<circle cx="200" cy="185" r="28"/><circle cx="680" cy="190" r="18"/>
</g>
<path d="M205 500C215 420 250 360 300 340L390 320H490L580 340C630 360 655 420 665 500L600 515L580 470V690H290V470L270 515Z" fill="#c9dfb9" stroke="#74a85a" stroke-width="10"/>
<path d="M215 500L285 515L300 560L240 600C205 590 200 540 215 500ZM660 500L590 515L575 560L635 600C670 590 672 540 660 500Z" fill="#dcead2" stroke="#74a85a" stroke-width="10"/>
<path d="M310 345H350V450H520V345H560V470L580 480V690H290V480L310 470Z" fill="#a5c88f" stroke="#74a85a" stroke-width="10"/>
<path d="M340 640H530V690H340Z" fill="#b3d09e" stroke="#7dae63" stroke-width="6"/>
<path d="M385 300V340C400 365 470 365 485 340V300Z" fill="#dcead2" stroke="#74a85a" stroke-width="10"/>
<path d="M345 170C330 165 315 180 320 205C325 225 340 235 352 232C360 280 400 305 435 305C470 305 510 280 518 232C530 235 545 225 550 205C555 180 540 165 525 170C525 140 500 120 435 120C370 120 345 140 345 170Z" fill="#dcead2" stroke="#74a85a" stroke-width="10"/>
<path d="M345 175C345 150 370 140 390 150C420 165 470 160 500 150C520 145 528 160 525 175C540 120 500 95 435 95C370 95 335 120 345 175Z" fill="#5e9447"/>
<path d="M335 150C330 90 370 48 435 48C500 48 540 90 538 150C500 125 450 122 410 130C380 136 350 142 335 150Z" fill="#a5c88f" stroke="#74a85a" stroke-width="10"/>
<circle cx="398" cy="200" r="8" fill="#4f8140"/><circle cx="472" cy="200" r="8" fill="#4f8140"/>
<path d="M410 255C425 268 450 268 462 255" fill="none" stroke="#7dae63" stroke-width="6" stroke-linecap="round"/>
<path d="M232 520L345 535L352 585L250 600ZM640 520L528 535L520 585L622 600Z" fill="#dcead2" stroke="#74a85a" stroke-width="10"/>
<path d="M380 500C400 480 470 480 495 500C520 520 480 545 435 545C390 545 355 520 380 500Z" fill="#6da054"/>
<path d="M435 500V450M435 470C420 440 395 430 375 432C385 455 410 470 435 470ZM435 460C450 430 475 420 495 425C485 448 462 462 435 460Z" fill="#a5c88f" stroke="#6da054" stroke-width="6"/>
<path d="M330 530C330 505 360 495 380 510L430 550C440 575 420 590 395 590C360 590 335 565 330 530ZM540 530C540 505 510 495 490 510L440 550C430 575 450 590 475 590C510 590 535 565 540 530Z" fill="#dcead2" stroke="#74a85a" stroke-width="10"/>
</g>
<!-- 54_footer -->
<g id="ic-mail" transform="translate(770 684) scale(0.06083)" fill="none" stroke="#111" stroke-width="28" stroke-linejoin="round" stroke-linecap="round">
<path d="M325 650H140V302L340 470Q412 525 490 470L685 302V650H545"/>
<path d="M385 650H420M465 650H500"/>
<path d="M140 642L330 482M685 642L495 482"/>
<path d="M230 365V157H600V360"/>
<path d="M330 155L410 90L495 155"/>
<path d="M142 300L226 240M684 300L604 240"/>
<text x="412" y="348" text-anchor="middle" font-family="'Liberation Sans', 'DejaVu Sans', sans-serif" font-weight="bold" font-size="175" fill="#111" stroke="#111" stroke-width="9">@</text>
</g>
<g id="ic-fb" transform="translate(972 686) scale(0.06083)" fill="none" stroke="#787878" stroke-width="30" stroke-linejoin="round">
<path d="M365 655H200Q135 655 135 590V195Q135 130 200 130H595Q660 130 660 195V590Q660 655 595 655H460"/>
<path d="M365 662V490H295V390H365V320C365 250 410 225 465 225H565V330H495C468 330 460 342 460 362V387H565L545 490H460V662"/>
</g>
<g id="texts">
<text xml:space="preserve" transform="translate(323.54 113.60) scale(0.9810 1)" font-family="'Liberation Sans', 'DejaVu Sans', sans-serif" font-size="21.2" font-weight="normal" fill="#111" >LEBANESE REPUBLIC</text>
<text xml:space="preserve" transform="translate(324.11 136.70) scale(0.9863 1)" font-family="'Liberation Sans', 'DejaVu Sans', sans-serif" font-size="15.5" font-weight="normal" fill="#3a3a3a" >MINISTRY OF AGRICULTURE</text>
<text xml:space="preserve" transform="translate(64.08 220.00) scale(0.9198 1)" font-family="'Liberation Sans', 'DejaVu Sans', sans-serif" font-size="47.2" font-weight="bold" fill="#000" stroke="#000" stroke-width="0.9" stroke-linejoin="round">A<tspan font-size="37.8">GRICULTURE </tspan>E<tspan font-size="37.8">XTENSION</tspan></text>
<text xml:space="preserve" transform="translate(63.63 284.50) scale(0.9573 1)" font-family="'Liberation Sans', 'DejaVu Sans', sans-serif" font-size="47.2" font-weight="bold" fill="#000" stroke="#000" stroke-width="0.9" stroke-linejoin="round">P<tspan font-size="37.8">ROGRAM</tspan></text>
<text xml:space="preserve" transform="translate(332.07 322.60) scale(1.0723 1)" font-family="'DejaVu Sans', 'Liberation Sans', sans-serif" font-size="20" font-weight="normal" fill="#787878" direction="rtl" stroke="#787878" stroke-width="0.6">#الزراعة_نبض_الأرض_والحياة</text>
<text xml:space="preserve" transform="translate(491.38 341.70) scale(0.9739 1)" font-family="'DejaVu Sans', 'Liberation Sans', sans-serif" font-size="31.3" font-weight="bold" fill="#538135" stroke="#538135" stroke-width="0.6">19,802</text>
<text xml:space="preserve" transform="translate(513.29 368.70) scale(1.0071 1)" font-family="'Liberation Sans', 'DejaVu Sans', sans-serif" font-size="19.3" font-weight="normal" fill="#000" >Farmers</text>
<text xml:space="preserve" transform="translate(496.74 394.10) scale(1.0598 1)" font-family="'Liberation Sans', 'DejaVu Sans', sans-serif" font-size="19.3" font-weight="normal" fill="#000" >participants</text>
<text xml:space="preserve" transform="translate(108.55 446.00) scale(0.9486 1)" font-family="'Liberation Sans', 'DejaVu Sans', sans-serif" font-size="18.8" font-weight="bold" fill="#000" stroke="#000" stroke-width="0.3">N<tspan font-size="15.1">UMBER OF </tspan>T<tspan font-size="15.1">RAINING </tspan>S<tspan font-size="15.1">ESSIONS </tspan>P<tspan font-size="15.1">ER </tspan>R<tspan font-size="15.1">EGION</tspan></text>
<text xml:space="preserve" transform="translate(138.25 489.30) scale(0.9329 1)" font-family="'Liberation Sans', 'DejaVu Sans', sans-serif" font-size="14.6" font-weight="bold" fill="#000" stroke="#000" stroke-width="0.3">Akkar</text>
<text xml:space="preserve" transform="translate(253.94 489.80) scale(1.0133 1)" font-family="'Liberation Sans', 'DejaVu Sans', sans-serif" font-size="13.8" font-weight="bold" fill="#000" stroke="#000" stroke-width="0.4">12</text>
<text xml:space="preserve" transform="translate(48.55 520.20) scale(0.9478 1)" font-family="'Liberation Sans', 'DejaVu Sans', sans-serif" font-size="14.6" font-weight="bold" fill="#000" stroke="#000" stroke-width="0.3">Baalbeck El Hermel</text>
<text xml:space="preserve" transform="translate(379.10 520.70) scale(1.0133 1)" font-family="'Liberation Sans', 'DejaVu Sans', sans-serif" font-size="13.8" font-weight="bold" fill="#000" stroke="#000" stroke-width="0.4">40</text>
<text xml:space="preserve" transform="translate(70.77 552.00) scale(0.9790 1)" font-family="'Liberation Sans', 'DejaVu Sans', sans-serif" font-size="14.6" font-weight="bold" fill="#000" stroke="#000" stroke-width="0.3">Mount Lebanon</text>
<text xml:space="preserve" transform="translate(481.91 552.50) scale(1.0133 1)" font-family="'Liberation Sans', 'DejaVu Sans', sans-serif" font-size="13.8" font-weight="bold" fill="#000" stroke="#000" stroke-width="0.4">63</text>
<text xml:space="preserve" transform="translate(107.75 583.00) scale(0.9963 1)" font-family="'Liberation Sans', 'DejaVu Sans', sans-serif" font-size="14.6" font-weight="bold" fill="#000" stroke="#000" stroke-width="0.3">Nabatiyeh</text>
<text xml:space="preserve" transform="translate(441.68 583.50) scale(0.9500 1)" font-family="'Liberation Sans', 'DejaVu Sans', sans-serif" font-size="13.8" font-weight="bold" fill="#000" stroke="#000" stroke-width="0.4">54</text>
<text xml:space="preserve" transform="translate(137.73 614.50) scale(1.0203 1)" font-family="'Liberation Sans', 'DejaVu Sans', sans-serif" font-size="14.6" font-weight="bold" fill="#000" stroke="#000" stroke-width="0.3">North</text>
<text xml:space="preserve" transform="translate(361.22 615.00) scale(1.0133 1)" font-family="'Liberation Sans', 'DejaVu Sans', sans-serif" font-size="13.8" font-weight="bold" fill="#000" stroke="#000" stroke-width="0.4">36</text>
<text xml:space="preserve" transform="translate(138.25 645.80) scale(0.9329 1)" font-family="'Liberation Sans', 'DejaVu Sans', sans-serif" font-size="14.6" font-weight="bold" fill="#000" stroke="#000" stroke-width="0.3">South</text>
<text xml:space="preserve" transform="translate(307.58 646.30) scale(0.9500 1)" font-family="'Liberation Sans', 'DejaVu Sans', sans-serif" font-size="13.8" font-weight="bold" fill="#000" stroke="#000" stroke-width="0.4">24</text>
<text xml:space="preserve" transform="translate(136.08 677.50) scale(0.9186 1)" font-family="'Liberation Sans', 'DejaVu Sans', sans-serif" font-size="14.6" font-weight="bold" fill="#000" stroke="#000" stroke-width="0.3">Bekaa</text>
<text xml:space="preserve" transform="translate(285.23 678.00) scale(1.0133 1)" font-family="'Liberation Sans', 'DejaVu Sans', sans-serif" font-size="13.8" font-weight="bold" fill="#000" stroke="#000" stroke-width="0.4">19</text>
<text xml:space="preserve" transform="translate(703.51 530.00) scale(0.9891 1)" font-family="'Liberation Sans', 'DejaVu Sans', sans-serif" font-size="21" font-weight="bold" fill="#f2f2f2" >83 %</text>
<text xml:space="preserve" transform="translate(591.49 573.00) scale(1.0057 1)" font-family="'Liberation Sans', 'DejaVu Sans', sans-serif" font-size="19.6" font-weight="bold" fill="#000" stroke="#000" stroke-width="0.35">17 %</text>
<text xml:space="preserve" transform="translate(653.03 646.00) scale(0.9706 1)" font-family="'Liberation Sans', 'DejaVu Sans', sans-serif" font-size="18.8" font-weight="bold" fill="#000" stroke="#000" stroke-width="0.35">11% <tspan font-size="14.5">OF FARMERS</tspan></text>
<text xml:space="preserve" transform="translate(653.03 672.00) scale(0.9684 1)" font-family="'Liberation Sans', 'DejaVu Sans', sans-serif" font-size="18.8" font-weight="bold" fill="#000" stroke="#000" stroke-width="0.35">B<tspan font-size="14.5">ELOW  </tspan>25 <tspan font-size="14.5">YEARS OLD</tspan></text>
<text xml:space="preserve" transform="translate(861.25 445.75) scale(1.0294 1)" font-family="'Liberation Sans', 'DejaVu Sans', sans-serif" font-size="21" font-weight="bold" fill="#000" stroke="#000" stroke-width="0.4">263</text>
<text xml:space="preserve" transform="translate(927.05 445.00) scale(0.9480 1)" font-family="'Liberation Sans', 'DejaVu Sans', sans-serif" font-size="18.9" font-weight="normal" fill="#fff" >Orientation Sessions</text>
<text xml:space="preserve" transform="translate(873.75 483.75) scale(0.9674 1)" font-family="'Liberation Sans', 'DejaVu Sans', sans-serif" font-size="21" font-weight="bold" fill="#000" stroke="#000" stroke-width="0.4">31</text>
<text xml:space="preserve" transform="translate(928.27 483.00) scale(0.9760 1)" font-family="'Liberation Sans', 'DejaVu Sans', sans-serif" font-size="18.9" font-weight="normal" fill="#fff" >Field Visit to Farmers</text>
<text xml:space="preserve" transform="translate(861.25 521.75) scale(1.0368 1)" font-family="'Liberation Sans', 'DejaVu Sans', sans-serif" font-size="21" font-weight="bold" fill="#000" stroke="#000" stroke-width="0.4">230</text>
<text xml:space="preserve" transform="translate(929.25 520.75) scale(0.9437 1)" font-family="'Liberation Sans', 'DejaVu Sans', sans-serif" font-size="18.9" font-weight="normal" fill="#fff" >Trained Technical Staff</text>
<text xml:space="preserve" transform="translate(872.74 560.75) scale(1.0114 1)" font-family="'Liberation Sans', 'DejaVu Sans', sans-serif" font-size="21" font-weight="bold" fill="#000" stroke="#000" stroke-width="0.4">17</text>
<text xml:space="preserve" transform="translate(928.30 560.00) scale(0.9531 1)" font-family="'Liberation Sans', 'DejaVu Sans', sans-serif" font-size="18.9" font-weight="normal" fill="#fff" >Educational Videos</text>
<text xml:space="preserve" transform="translate(872.00 601.75) scale(0.9674 1)" font-family="'Liberation Sans', 'DejaVu Sans', sans-serif" font-size="21" font-weight="bold" fill="#000" stroke="#000" stroke-width="0.4">32</text>
<text xml:space="preserve" transform="translate(927.07 601.00) scale(0.9280 1)" font-family="'Liberation Sans', 'DejaVu Sans', sans-serif" font-size="18.9" font-weight="normal" fill="#fff" >Media Sessions</text>
<text xml:space="preserve" transform="translate(828.00 717.40) scale(1.0363 1)" font-family="'Liberation Sans', 'DejaVu Sans', sans-serif" font-size="17.3" font-weight="normal" fill="#000" >www.moa.gov.lb</text>
<text xml:space="preserve" transform="translate(1024.22 719.00) scale(0.9833 1)" font-family="'Liberation Sans', 'DejaVu Sans', sans-serif" font-size="17.8" font-weight="normal" fill="#000" >Lebanese Ministry of Agriculture</text>
<text xml:space="preserve" transform="translate(945.80 201.20) scale(0.8723 1)" font-family="'Liberation Sans', 'DejaVu Sans', sans-serif" font-size="23.5" font-weight="bold" fill="#000" stroke="#000" stroke-width="0.4">T<tspan font-size="19">RAINING</tspan></text>
<text xml:space="preserve" transform="translate(958.50 230.20) scale(0.7918 1)" font-family="'Liberation Sans', 'DejaVu Sans', sans-serif" font-size="23.5" font-weight="bold" fill="#000" stroke="#000" stroke-width="0.4">T<tspan font-size="19">OPICS</tspan></text>
<text xml:space="preserve" transform="translate(881.58 60.00) scale(0.9250 1)" font-family="'Liberation Sans', 'DejaVu Sans', sans-serif" font-size="13.8" font-weight="normal" fill="#28432a" stroke="#28432a" stroke-width="0.5">Farmers</text>
<text xml:space="preserve" transform="translate(881.56 74.25) scale(0.9400 1)" font-family="'Liberation Sans', 'DejaVu Sans', sans-serif" font-size="13.8" font-weight="normal" fill="#28432a" stroke="#28432a" stroke-width="0.5">Registry</text>
<text xml:space="preserve" transform="translate(774.09 128.00) scale(0.9054 1)" font-family="'Liberation Sans', 'DejaVu Sans', sans-serif" font-size="13.8" font-weight="normal" fill="#28432a" stroke="#28432a" stroke-width="0.5">Food Safety</text>
<text xml:space="preserve" transform="translate(736.52 200.00) scale(0.9770 1)" font-family="'Liberation Sans', 'DejaVu Sans', sans-serif" font-size="13.8" font-weight="normal" fill="#28432a" stroke="#28432a" stroke-width="0.5">Environmental</text>
<text xml:space="preserve" transform="translate(747.50 213.75) scale(0.9924 1)" font-family="'Liberation Sans', 'DejaVu Sans', sans-serif" font-size="13.8" font-weight="normal" fill="#28432a" stroke="#28432a" stroke-width="0.5">Agriculture</text>
<text xml:space="preserve" transform="translate(1018.74 58.75) scale(1.0119 1)" font-family="'Liberation Sans', 'DejaVu Sans', sans-serif" font-size="13.8" font-weight="normal" fill="#28432a" stroke="#28432a" stroke-width="0.5">Poultry</text>
<text xml:space="preserve" transform="translate(1016.31 73.00) scale(0.9439 1)" font-family="'Liberation Sans', 'DejaVu Sans', sans-serif" font-size="13.8" font-weight="normal" fill="#28432a" stroke="#28432a" stroke-width="0.5">Farming</text>
<text xml:space="preserve" transform="translate(1105.07 136.75) scale(0.9350 1)" font-family="'Liberation Sans', 'DejaVu Sans', sans-serif" font-size="13.8" font-weight="normal" fill="#28432a" stroke="#28432a" stroke-width="0.5">Forest Management</text>
<text xml:space="preserve" transform="translate(1119.00 150.50) scale(0.9340 1)" font-family="'Liberation Sans', 'DejaVu Sans', sans-serif" font-size="13.8" font-weight="normal" fill="#28432a" stroke="#28432a" stroke-width="0.5">&amp; Fire Prevention</text>
<text xml:space="preserve" transform="translate(1209.54 217.50) scale(0.9554 1)" font-family="'Liberation Sans', 'DejaVu Sans', sans-serif" font-size="13.8" font-weight="normal" fill="#28432a" stroke="#28432a" stroke-width="0.5">Field</text>
<text xml:space="preserve" transform="translate(1207.48 232.00) scale(1.0192 1)" font-family="'Liberation Sans', 'DejaVu Sans', sans-serif" font-size="13.8" font-weight="normal" fill="#28432a" stroke="#28432a" stroke-width="0.5">Irrigation</text>
<text xml:space="preserve" transform="translate(1209.75 246.50) scale(0.8821 1)" font-family="'Liberation Sans', 'DejaVu Sans', sans-serif" font-size="13.8" font-weight="normal" fill="#28432a" stroke="#28432a" stroke-width="0.5">Systems</text>
<text xml:space="preserve" transform="translate(1158.81 269.75) scale(0.9375 1)" font-family="'Liberation Sans', 'DejaVu Sans', sans-serif" font-size="13.8" font-weight="normal" fill="#28432a" stroke="#28432a" stroke-width="0.5">Use of pesticides</text>
<text xml:space="preserve" transform="translate(1130.54 309.00) scale(0.9613 1)" font-family="'Liberation Sans', 'DejaVu Sans', sans-serif" font-size="13.8" font-weight="normal" fill="#28432a" stroke="#28432a" stroke-width="0.5">Beekeeping</text>
<text xml:space="preserve" transform="translate(1094.00 353.25) scale(0.9941 1)" font-family="'Liberation Sans', 'DejaVu Sans', sans-serif" font-size="13.8" font-weight="normal" fill="#28432a" stroke="#28432a" stroke-width="0.5">Animal Health</text>
<text xml:space="preserve" transform="translate(1062.92 387.75) scale(1.0797 1)" font-family="'Liberation Sans', 'DejaVu Sans', sans-serif" font-size="13.8" font-weight="normal" fill="#28432a" stroke="#28432a" stroke-width="0.5">Milk production</text>
<text xml:space="preserve" transform="translate(950.20 400.25) scale(1.0549 1)" font-family="'Liberation Sans', 'DejaVu Sans', sans-serif" font-size="13.8" font-weight="normal" fill="#28432a" stroke="#28432a" stroke-width="0.5">Milk production</text>
<text xml:space="preserve" transform="translate(757.50 294.75) scale(0.9924 1)" font-family="'Liberation Sans', 'DejaVu Sans', sans-serif" font-size="13.8" font-weight="normal" fill="#28432a" stroke="#28432a" stroke-width="0.5">Olive Cultivation</text>
<text xml:space="preserve" transform="translate(775.75 355.25) scale(0.9697 1)" font-family="'Liberation Sans', 'DejaVu Sans', sans-serif" font-size="13.8" font-weight="normal" fill="#28432a" stroke="#28432a" stroke-width="0.5">Olive Cultivation</text>
<text xml:space="preserve" transform="translate(818.75 389.00) scale(0.9401 1)" font-family="'Liberation Sans', 'DejaVu Sans', sans-serif" font-size="13.8" font-weight="normal" fill="#28432a" stroke="#28432a" stroke-width="0.5">Water management</text>
</g>
</svg>
</body></html>
